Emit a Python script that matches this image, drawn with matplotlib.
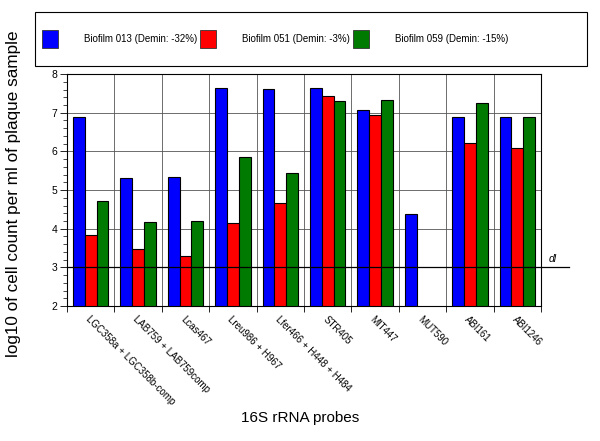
import numpy as np
import matplotlib.pyplot as plt
from matplotlib.patches import Rectangle
from matplotlib.ticker import MultipleLocator
import matplotlib.transforms as mtransforms

plt.rcParams['font.family'] = ['Liberation Sans', 'DejaVu Sans']

# probes and log10 cell counts per biofilm (nan = below detection, no bar)
probes = ['LGC358a + LGC358b-comp', 'LAB759 + LAB759comp', 'Lcas467',
          'Lreu986 + H967', 'Lfer466 + H448 + H484', 'STR405', 'MIT447',
          'MUT590', 'ABI161', 'ABI1246']
biofilm_013 = [6.89, 5.30, 5.33, 7.63, 7.61, 7.63, 7.08, 4.37, 6.88, 6.88]
biofilm_051 = [3.85, 3.48, 3.30, 4.14, 4.66, 7.43, 6.93, np.nan, 6.22, 6.10]
biofilm_059 = [4.72, 4.17, 4.20, 5.85, 5.44, 7.31, 7.32, np.nan, 7.26, 6.90]
series_names = ['Biofilm 013 (Demin: -32%)', 'Biofilm 051 (Demin: -3%)',
                'Biofilm 059 (Demin: -15%)']
series_colors = ['#0000ff', '#ff0000', '#007a00']
detection_limit = 3

fig = plt.figure(figsize=(6, 4.41), dpi=100)
ax = fig.add_axes([0.1117, 0.306, 0.79, 0.526])

x = np.arange(len(probes))
w = 0.25
series = [biofilm_013, biofilm_051, biofilm_059]
for i, (vals, col) in enumerate(zip(series, series_colors)):
    ax.bar(x + (i - 1) * w, np.array(vals) - 2, w, bottom=2, color=col,
           edgecolor='black', linewidth=0.8, zorder=3)

ax.set_xlim(-0.5, len(probes) - 0.5)
ax.set_ylim(2, 8)

# grid: horizontal at integers, vertical at group boundaries
for yv in range(3, 8):
    ax.axhline(yv, color='#555555', linewidth=0.6, zorder=1)
for xv in np.arange(0.5, len(probes) - 0.5, 1):
    ax.axvline(xv, color='#555555', linewidth=0.6, zorder=1)

# detection limit line, sticks out past the right axis
trans = mtransforms.blended_transform_factory(ax.transAxes, ax.transData)
ax.plot([0, 1.06], [detection_limit, detection_limit], color='black',
        linewidth=0.9, transform=trans, clip_on=False, zorder=5)
ax.text(1.017, detection_limit + 0.08, 'dl', style='italic', fontsize=7.5,
        transform=trans, ha='left', va='bottom')

ax.yaxis.set_major_locator(MultipleLocator(1))
ax.yaxis.set_minor_locator(MultipleLocator(0.2))
ax.tick_params(axis='y', which='major', length=5, width=0.6, labelsize=7.5, pad=2)
ax.tick_params(axis='y', which='minor', length=3, width=0.5)

ax.set_xticks(np.arange(-0.5, len(probes), 1), minor=True)
ax.set_xticks(x)
ax.set_xticklabels(probes, rotation=-45, ha='left', va='top',
                   rotation_mode='anchor', fontsize=7)
ax.tick_params(axis='x', which='major', length=0, pad=6)
ax.tick_params(axis='x', which='minor', length=4, width=0.6)

for s in ax.spines.values():
    s.set_linewidth(0.8)

fig.text(0.022, 0.56, 'log10 of cell count per ml of plaque sample', fontsize=12.3,
         rotation=90, ha='center', va='center')
fig.text(0.5, 0.052, '16S rRNA probes', fontsize=11, ha='center', va='center')

# legend box across the top
fig.patches.append(Rectangle((0.058, 0.850), 0.92, 0.123, transform=fig.transFigure,
                             facecolor='white', edgecolor='black', linewidth=0.8))
sq_x = [0.070, 0.333, 0.588]
tx_x = [0.140, 0.403, 0.658]
for sx, tx, name, col in zip(sq_x, tx_x, series_names, series_colors):
    fig.patches.append(Rectangle((sx, 0.891), 0.027, 0.041, transform=fig.transFigure,
                                 facecolor=col, edgecolor='#333333', linewidth=0.6))
    fig.text(tx, 0.912, name, fontsize=7, ha='left', va='center')

fig.savefig('out.png', dpi=100)
